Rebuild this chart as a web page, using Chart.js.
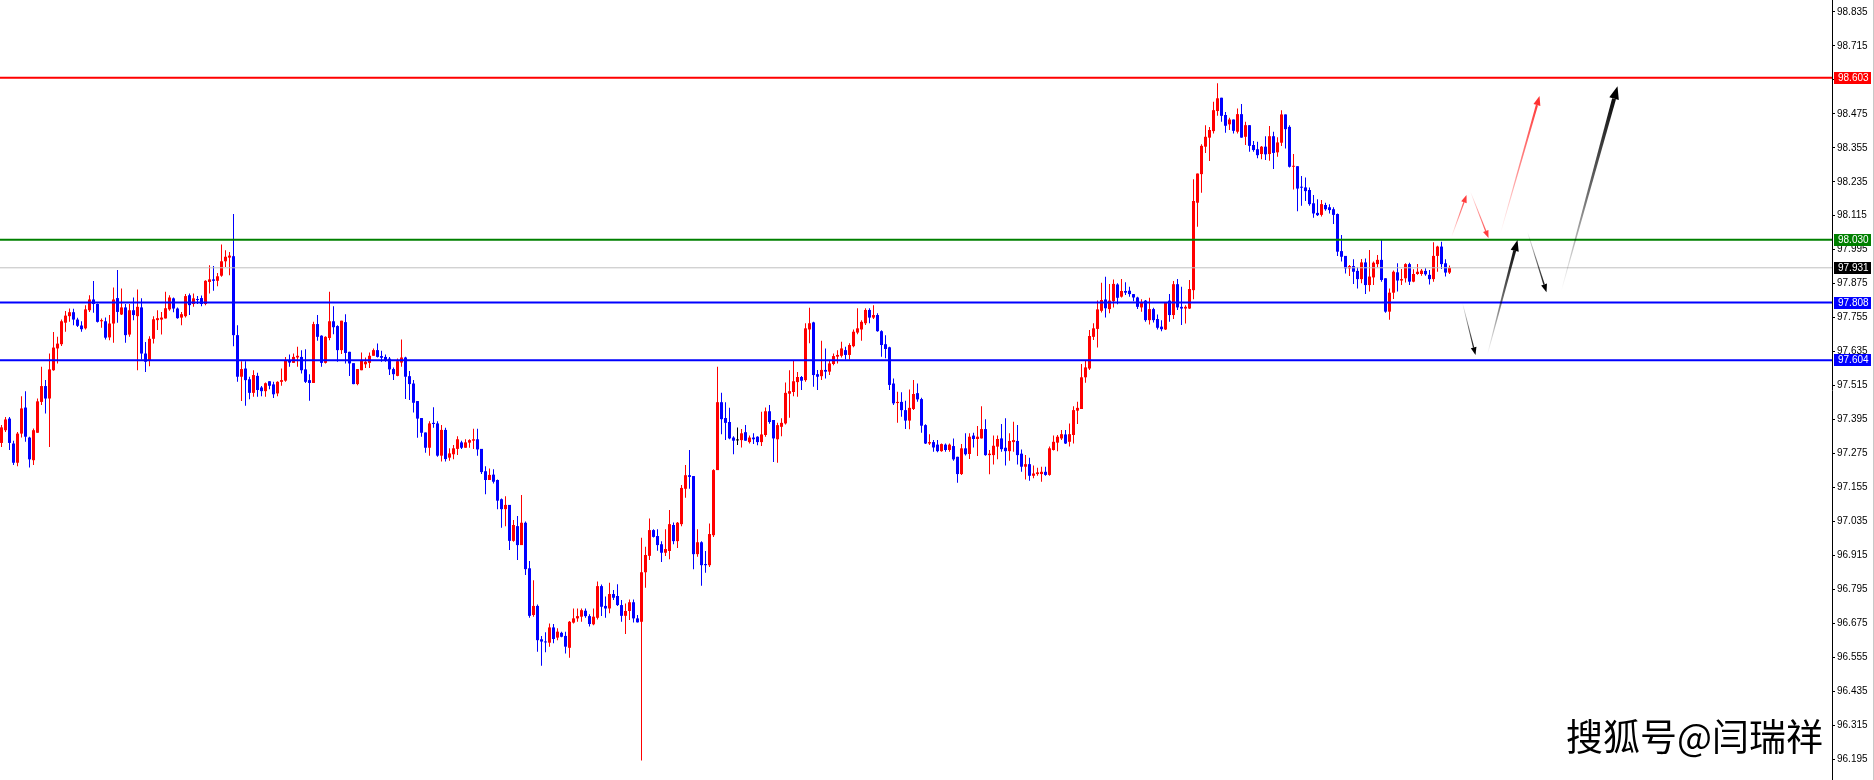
<!DOCTYPE html>
<html>
<head>
<meta charset="utf-8">
<title>Kurs</title>
<script src="https://cdn.jsdelivr.net/npm/chart.js@4.4.0/dist/chart.umd.min.js"></script>
<style>
  html, body { margin: 0; padding: 0; background: #fff; }
  #wrap { position: relative; width: 1874px; height: 780px; }
  #mark {
    position: absolute; left: 1566px; top: 717px;
    font-family: "Noto Sans CJK SC"; font-size: 37px; line-height: 1;
    color: #000; white-space: nowrap;
  }
</style>
</head>
<body>
<div id="wrap">
  <canvas id="chartKurs"></canvas>
  <div id="mark">搜狐号@闫瑞祥</div>
</div>
<script>
// candle values, one per bar
const opens = [
  97.312, 97.357, 97.398, 97.310, 97.242, 97.345, 97.437, 97.331, 97.251, 97.348,
  97.457, 97.513, 97.469, 97.569, 97.646, 97.661, 97.737, 97.760, 97.774, 97.748,
  97.727, 97.717, 97.781, 97.819, 97.803, 97.742, 97.742, 97.685, 97.734, 97.824,
  97.766, 97.791, 97.695, 97.781, 97.760, 97.791, 97.628, 97.605, 97.680, 97.746,
  97.748, 97.752, 97.784, 97.823, 97.787, 97.755, 97.760, 97.834, 97.803, 97.820,
  97.824, 97.803, 97.881, 97.890, 97.885, 97.903, 97.954, 97.967, 97.972, 97.693,
  97.546, 97.575, 97.537, 97.489, 97.549, 97.508, 97.495, 97.530, 97.519, 97.487,
  97.528, 97.532, 97.605, 97.595, 97.614, 97.616, 97.572, 97.534, 97.524, 97.732,
  97.691, 97.595, 97.683, 97.742, 97.725, 97.640, 97.739, 97.634, 97.594, 97.520,
  97.569, 97.590, 97.595, 97.620, 97.640, 97.619, 97.616, 97.610, 97.573, 97.549,
  97.596, 97.614, 97.548, 97.522, 97.460, 97.400, 97.349, 97.295, 97.383, 97.381,
  97.267, 97.358, 97.260, 97.272, 97.291, 97.314, 97.295, 97.313, 97.320, 97.325,
  97.291, 97.212, 97.181, 97.200, 97.181, 97.113, 97.078, 97.093, 96.966, 97.018,
  96.951, 97.030, 96.869, 96.704, 96.736, 96.618, 96.610, 96.606, 96.660, 96.624,
  96.641, 96.630, 96.588, 96.677, 96.692, 96.698, 96.719, 96.700, 96.671, 96.694,
  96.806, 96.736, 96.727, 96.778, 96.771, 96.739, 96.701, 96.718, 96.749, 96.692,
  96.680, 96.855, 96.913, 97.004, 96.983, 96.954, 96.924, 96.930, 97.022, 96.965,
  97.025, 97.150, 97.198, 97.195, 96.919, 96.961, 96.884, 96.880, 96.986, 97.216,
  97.456, 97.400, 97.386, 97.331, 97.321, 97.322, 97.350, 97.315, 97.331, 97.334,
  97.315, 97.340, 97.424, 97.393, 97.325, 97.369, 97.381, 97.486, 97.492, 97.527,
  97.545, 97.534, 97.713, 97.738, 97.555, 97.548, 97.570, 97.564, 97.591, 97.617,
  97.620, 97.640, 97.623, 97.654, 97.702, 97.713, 97.735, 97.782, 97.755, 97.764,
  97.707, 97.661, 97.650, 97.522, 97.453, 97.457, 97.428, 97.391, 97.432, 97.488,
  97.467, 97.375, 97.310, 97.315, 97.306, 97.283, 97.306, 97.287, 97.301, 97.263,
  97.202, 97.293, 97.273, 97.338, 97.326, 97.328, 97.361, 97.269, 97.269, 97.299,
  97.328, 97.295, 97.283, 97.315, 97.319, 97.274, 97.228, 97.237, 97.196, 97.202,
  97.202, 97.210, 97.199, 97.287, 97.313, 97.328, 97.342, 97.316, 97.340, 97.426,
  97.432, 97.544, 97.575, 97.687, 97.715, 97.779, 97.819, 97.785, 97.813, 97.872,
  97.829, 97.849, 97.850, 97.838, 97.826, 97.791, 97.815, 97.746, 97.785, 97.750,
  97.723, 97.713, 97.815, 97.764, 97.873, 97.793, 97.787, 97.787, 97.852, 98.161,
  98.262, 98.359, 98.391, 98.414, 98.485, 98.532, 98.471, 98.438, 98.455, 98.412,
  98.474, 98.394, 98.435, 98.365, 98.350, 98.333, 98.359, 98.333, 98.396, 98.339,
  98.373, 98.473, 98.429, 98.288, 98.290, 98.215, 98.215, 98.206, 98.159, 98.125,
  98.118, 98.153, 98.145, 98.138, 98.121, 97.990, 97.973, 97.929, 97.937, 97.920,
  97.891, 97.950, 97.870, 97.897, 97.944, 97.959, 97.894, 97.776, 97.843, 97.915,
  97.886, 97.894, 97.944, 97.882, 97.909, 97.909, 97.920, 97.906, 97.891, 97.973,
  98.006, 97.947, 97.914
];
const highs = [
  97.375, 97.404, 97.404, 97.320, 97.351, 97.477, 97.495, 97.334, 97.363, 97.469,
  97.581, 97.534, 97.628, 97.704, 97.687, 97.748, 97.778, 97.787, 97.786, 97.754,
  97.742, 97.799, 97.834, 97.884, 97.805, 97.752, 97.755, 97.764, 97.861, 97.923,
  97.858, 97.803, 97.803, 97.826, 97.854, 97.823, 97.669, 97.689, 97.760, 97.781,
  97.775, 97.846, 97.834, 97.826, 97.791, 97.775, 97.838, 97.840, 97.840, 97.831,
  97.833, 97.887, 97.940, 97.937, 97.913, 98.013, 97.993, 97.987, 98.121, 97.728,
  97.601, 97.601, 97.546, 97.569, 97.560, 97.513, 97.526, 97.530, 97.528, 97.530,
  97.575, 97.616, 97.625, 97.628, 97.652, 97.640, 97.643, 97.555, 97.740, 97.764,
  97.693, 97.689, 97.846, 97.795, 97.728, 97.744, 97.767, 97.634, 97.594, 97.573,
  97.632, 97.614, 97.632, 97.646, 97.663, 97.638, 97.625, 97.616, 97.579, 97.610,
  97.678, 97.617, 97.566, 97.534, 97.460, 97.400, 97.349, 97.389, 97.438, 97.389,
  97.375, 97.366, 97.293, 97.305, 97.336, 97.320, 97.325, 97.325, 97.362, 97.362,
  97.291, 97.230, 97.222, 97.219, 97.183, 97.116, 97.124, 97.093, 97.040, 97.054,
  97.128, 97.034, 96.895, 96.827, 96.741, 96.630, 96.643, 96.674, 96.672, 96.657,
  96.645, 96.645, 96.683, 96.727, 96.727, 96.727, 96.727, 96.707, 96.727, 96.822,
  96.812, 96.769, 96.818, 96.792, 96.813, 96.757, 96.745, 96.759, 96.759, 96.704,
  96.977, 96.945, 97.045, 97.007, 97.007, 96.965, 97.007, 97.075, 97.031, 97.033,
  97.163, 97.234, 97.287, 97.195, 97.007, 96.965, 96.930, 97.027, 97.219, 97.581,
  97.489, 97.456, 97.436, 97.336, 97.367, 97.361, 97.375, 97.338, 97.346, 97.336,
  97.422, 97.437, 97.446, 97.393, 97.383, 97.399, 97.526, 97.569, 97.602, 97.563,
  97.549, 97.735, 97.790, 97.740, 97.570, 97.673, 97.646, 97.605, 97.628, 97.640,
  97.670, 97.652, 97.664, 97.713, 97.788, 97.746, 97.788, 97.788, 97.799, 97.770,
  97.710, 97.693, 97.652, 97.540, 97.493, 97.491, 97.461, 97.501, 97.534, 97.522,
  97.472, 97.378, 97.343, 97.322, 97.322, 97.310, 97.310, 97.310, 97.328, 97.263,
  97.308, 97.346, 97.346, 97.348, 97.372, 97.442, 97.396, 97.287, 97.338, 97.338,
  97.379, 97.399, 97.346, 97.387, 97.375, 97.289, 97.269, 97.260, 97.232, 97.224,
  97.228, 97.228, 97.299, 97.338, 97.340, 97.358, 97.358, 97.381, 97.442, 97.458,
  97.591, 97.605, 97.711, 97.735, 97.815, 97.878, 97.899, 97.874, 97.890, 97.876,
  97.891, 97.880, 97.864, 97.838, 97.829, 97.820, 97.817, 97.825, 97.790, 97.766,
  97.746, 97.807, 97.838, 97.884, 97.891, 97.864, 97.799, 97.888, 98.244, 98.264,
  98.368, 98.435, 98.429, 98.518, 98.583, 98.532, 98.482, 98.461, 98.455, 98.494,
  98.510, 98.447, 98.435, 98.379, 98.376, 98.361, 98.396, 98.432, 98.412, 98.392,
  98.488, 98.473, 98.435, 98.333, 98.290, 98.255, 98.250, 98.215, 98.188, 98.173,
  98.171, 98.161, 98.156, 98.145, 98.123, 98.047, 97.973, 97.941, 97.961, 97.933,
  97.962, 97.964, 97.994, 97.953, 97.976, 98.029, 97.894, 97.858, 97.921, 97.947,
  97.927, 97.947, 97.949, 97.926, 97.944, 97.927, 97.929, 97.923, 98.021, 98.009,
  98.023, 97.961, 97.939
];
const lows = [
  97.298, 97.351, 97.287, 97.234, 97.230, 97.331, 97.316, 97.225, 97.234, 97.348,
  97.446, 97.416, 97.298, 97.567, 97.593, 97.655, 97.705, 97.740, 97.728, 97.722,
  97.705, 97.713, 97.775, 97.772, 97.738, 97.719, 97.678, 97.675, 97.666, 97.737,
  97.764, 97.666, 97.687, 97.746, 97.569, 97.607, 97.563, 97.583, 97.663, 97.711,
  97.695, 97.752, 97.779, 97.774, 97.751, 97.728, 97.755, 97.764, 97.793, 97.803,
  97.795, 97.799, 97.840, 97.850, 97.866, 97.899, 97.934, 97.905, 97.654, 97.528,
  97.460, 97.443, 97.466, 97.475, 97.475, 97.477, 97.475, 97.502, 97.471, 97.477,
  97.514, 97.528, 97.581, 97.595, 97.581, 97.557, 97.524, 97.461, 97.524, 97.673,
  97.581, 97.593, 97.675, 97.696, 97.599, 97.626, 97.593, 97.549, 97.519, 97.516,
  97.569, 97.577, 97.577, 97.620, 97.614, 97.599, 97.599, 97.552, 97.534, 97.548,
  97.581, 97.467, 97.464, 97.420, 97.330, 97.334, 97.277, 97.267, 97.366, 97.263,
  97.246, 97.246, 97.249, 97.254, 97.269, 97.291, 97.295, 97.295, 97.291, 97.267,
  97.202, 97.131, 97.181, 97.169, 97.078, 97.012, 97.018, 96.934, 96.963, 96.898,
  96.951, 96.845, 96.694, 96.698, 96.574, 96.525, 96.572, 96.592, 96.604, 96.615,
  96.625, 96.568, 96.553, 96.674, 96.680, 96.680, 96.694, 96.663, 96.668, 96.688,
  96.700, 96.694, 96.710, 96.757, 96.736, 96.680, 96.637, 96.686, 96.677, 96.677,
  96.190, 96.800, 96.898, 96.978, 96.931, 96.891, 96.912, 96.901, 96.954, 96.941,
  97.018, 97.118, 97.150, 96.866, 96.910, 96.807, 96.853, 96.874, 96.980, 97.216,
  97.343, 97.322, 97.325, 97.272, 97.305, 97.296, 97.320, 97.310, 97.308, 97.304,
  97.301, 97.334, 97.380, 97.245, 97.242, 97.336, 97.377, 97.401, 97.477, 97.475,
  97.499, 97.528, 97.664, 97.511, 97.499, 97.534, 97.540, 97.552, 97.587, 97.593,
  97.614, 97.607, 97.607, 97.650, 97.696, 97.673, 97.729, 97.735, 97.750, 97.705,
  97.617, 97.611, 97.499, 97.446, 97.383, 97.405, 97.361, 97.360, 97.428, 97.458,
  97.348, 97.308, 97.305, 97.281, 97.279, 97.281, 97.281, 97.281, 97.249, 97.171,
  97.199, 97.268, 97.255, 97.296, 97.266, 97.328, 97.267, 97.201, 97.236, 97.254,
  97.281, 97.232, 97.249, 97.281, 97.236, 97.210, 97.183, 97.178, 97.187, 97.196,
  97.175, 97.196, 97.196, 97.285, 97.283, 97.322, 97.308, 97.299, 97.310, 97.379,
  97.432, 97.525, 97.570, 97.676, 97.649, 97.773, 97.755, 97.770, 97.791, 97.802,
  97.826, 97.835, 97.829, 97.813, 97.785, 97.776, 97.740, 97.731, 97.738, 97.713,
  97.707, 97.711, 97.740, 97.750, 97.782, 97.729, 97.734, 97.785, 97.820, 98.076,
  98.196, 98.337, 98.308, 98.406, 98.468, 98.447, 98.408, 98.418, 98.406, 98.406,
  98.391, 98.365, 98.341, 98.341, 98.318, 98.315, 98.312, 98.309, 98.280, 98.323,
  98.361, 98.353, 98.285, 98.208, 98.131, 98.150, 98.167, 98.150, 98.108, 98.114,
  98.112, 98.133, 98.123, 98.086, 97.973, 97.953, 97.911, 97.902, 97.874, 97.858,
  97.876, 97.838, 97.847, 97.870, 97.933, 97.882, 97.772, 97.747, 97.821, 97.847,
  97.870, 97.879, 97.870, 97.880, 97.906, 97.903, 97.903, 97.872, 97.882, 97.917,
  97.927, 97.900, 97.909
];
const closes = [
  97.367, 97.395, 97.312, 97.242, 97.345, 97.434, 97.334, 97.254, 97.357, 97.459,
  97.513, 97.469, 97.572, 97.649, 97.663, 97.742, 97.762, 97.774, 97.748, 97.726,
  97.714, 97.784, 97.819, 97.803, 97.740, 97.746, 97.684, 97.734, 97.819, 97.775,
  97.791, 97.693, 97.781, 97.764, 97.793, 97.628, 97.599, 97.680, 97.749, 97.753,
  97.755, 97.788, 97.826, 97.787, 97.753, 97.767, 97.831, 97.799, 97.823, 97.817,
  97.803, 97.885, 97.890, 97.885, 97.901, 97.954, 97.970, 97.974, 97.693, 97.546,
  97.573, 97.534, 97.489, 97.552, 97.499, 97.495, 97.523, 97.514, 97.484, 97.528,
  97.534, 97.602, 97.596, 97.616, 97.620, 97.569, 97.528, 97.524, 97.732, 97.687,
  97.595, 97.687, 97.742, 97.721, 97.640, 97.744, 97.630, 97.593, 97.520, 97.573,
  97.602, 97.599, 97.620, 97.640, 97.616, 97.613, 97.602, 97.572, 97.555, 97.601,
  97.614, 97.546, 97.520, 97.454, 97.398, 97.348, 97.295, 97.381, 97.379, 97.267,
  97.358, 97.255, 97.275, 97.293, 97.325, 97.295, 97.314, 97.322, 97.325, 97.289,
  97.209, 97.181, 97.199, 97.175, 97.108, 97.078, 97.093, 96.966, 97.022, 96.951,
  97.030, 96.866, 96.701, 96.736, 96.615, 96.610, 96.607, 96.660, 96.619, 96.645,
  96.627, 96.592, 96.680, 96.692, 96.700, 96.721, 96.700, 96.672, 96.698, 96.806,
  96.733, 96.727, 96.778, 96.765, 96.739, 96.701, 96.718, 96.749, 96.692, 96.678,
  96.855, 96.916, 97.004, 96.980, 96.951, 96.924, 96.937, 97.025, 96.965, 97.030,
  97.153, 97.198, 97.192, 96.919, 96.961, 96.880, 96.880, 96.990, 97.216, 97.456,
  97.396, 97.383, 97.328, 97.320, 97.321, 97.346, 97.320, 97.331, 97.325, 97.315,
  97.342, 97.424, 97.386, 97.328, 97.375, 97.383, 97.489, 97.495, 97.530, 97.545,
  97.532, 97.717, 97.735, 97.552, 97.546, 97.570, 97.564, 97.593, 97.619, 97.623,
  97.646, 97.623, 97.658, 97.705, 97.717, 97.740, 97.782, 97.755, 97.764, 97.707,
  97.658, 97.644, 97.517, 97.452, 97.457, 97.428, 97.391, 97.436, 97.485, 97.466,
  97.373, 97.310, 97.315, 97.296, 97.283, 97.308, 97.287, 97.306, 97.254, 97.202,
  97.293, 97.272, 97.334, 97.326, 97.334, 97.361, 97.269, 97.274, 97.302, 97.326,
  97.290, 97.283, 97.319, 97.322, 97.269, 97.228, 97.237, 97.196, 97.204, 97.208,
  97.210, 97.199, 97.293, 97.316, 97.334, 97.343, 97.310, 97.343, 97.428, 97.436,
  97.544, 97.579, 97.690, 97.717, 97.784, 97.817, 97.788, 97.815, 97.874, 97.825,
  97.849, 97.843, 97.838, 97.826, 97.793, 97.807, 97.746, 97.785, 97.746, 97.719,
  97.714, 97.807, 97.764, 97.873, 97.791, 97.787, 97.793, 97.856, 98.167, 98.264,
  98.362, 98.394, 98.418, 98.488, 98.530, 98.468, 98.433, 98.455, 98.415, 98.474,
  98.391, 98.435, 98.362, 98.347, 98.329, 98.359, 98.332, 98.396, 98.337, 98.374,
  98.473, 98.421, 98.288, 98.290, 98.211, 98.214, 98.202, 98.156, 98.123, 98.117,
  98.156, 98.138, 98.135, 98.118, 97.988, 97.970, 97.929, 97.937, 97.917, 97.891,
  97.950, 97.870, 97.900, 97.949, 97.959, 97.888, 97.776, 97.843, 97.917, 97.886,
  97.891, 97.944, 97.882, 97.909, 97.917, 97.921, 97.908, 97.891, 97.973, 98.006,
  97.944, 97.914, 97.931
];

// price axis labels
const yTicks = [
  96.195, 96.315, 96.435, 96.555, 96.675, 96.795, 96.915, 97.035, 97.155, 97.275,
  97.395, 97.515, 97.635, 97.755, 97.875, 97.995, 98.115, 98.235, 98.355, 98.475,
  98.595, 98.715, 98.835
];

// horizontal levels (resistance / support / current price)
const levelValues = [98.603, 98.030, 97.931, 97.808, 97.604];
const levelColors = ['#ff0000', '#008000', '#c0c0c0', '#0000ff', '#0000ff'];
const levelLabelBg = ['#ff0000', '#008000', '#000000', '#0000ff', '#0000ff'];
const levelWidths = [2, 2, 1, 2, 2];

// forecast arrows: [bar index, price]
const arrowFrom = [[362.5, 98.040], [367.25, 98.199], [374.75, 98.054], [365.25, 97.806], [371.5, 97.626], [381.5, 98.057], [390, 97.852]];
const arrowTo   = [[366.25, 98.188], [371.75, 98.036], [384.5, 98.538], [368.5, 97.623], [379, 98.029], [386.25, 97.845], [404, 98.573]];
const arrowRgb  = [[255, 60, 60], [255, 60, 60], [255, 50, 50], [0, 0, 0], [0, 0, 0], [0, 0, 0], [0, 0, 0]];
const arrowW    = [1.3, 1.3, 2.2, 1.3, 3, 1.5, 4];

const xMin = -0.375, xMax = 457.625;

const candleColors = closes.map((c, i) => c > opens[i] ? '#ff0000' : (c < opens[i] ? '#0000ff' : '#000000'));

function drawArrow(ctx, x0, y0, x1, y1, rgb, w) {
    const dx = x1 - x0, dy = y1 - y0;
    const len = Math.hypot(dx, dy);
    const ux = dx / len, uy = dy / len, nx = -uy, ny = ux;
    const head = 5 + w * 2;
    const bx = x1 - ux * head, by = y1 - uy * head;
    const c = rgb.join(',');
    const grad = ctx.createLinearGradient(x0, y0, x1, y1);
    grad.addColorStop(0, 'rgba(' + c + ',0)');
    grad.addColorStop(0.45, 'rgba(' + c + ',0.55)');
    grad.addColorStop(1, 'rgba(' + c + ',1)');
    ctx.fillStyle = grad;
    ctx.beginPath();
    ctx.moveTo(x0 + nx * 0.3, y0 + ny * 0.3);
    ctx.lineTo(bx + nx * w / 2, by + ny * w / 2);
    ctx.lineTo(bx - nx * w / 2, by - ny * w / 2);
    ctx.lineTo(x0 - nx * 0.3, y0 - ny * 0.3);
    ctx.closePath();
    ctx.fill();
    const hw = head * 0.38;
    ctx.fillStyle = 'rgb(' + c + ')';
    ctx.beginPath();
    ctx.moveTo(x1, y1);
    ctx.lineTo(bx + nx * hw, by + ny * hw);
    ctx.lineTo(bx - nx * hw, by - ny * hw);
    ctx.closePath();
    ctx.fill();
}

const overlayPlugin = {
    id: 'overlay',
    afterDatasetsDraw(chart) {
        const ctx = chart.ctx, xs = chart.scales.x, ys = chart.scales.y;
        ctx.save();
        for (let i = 0; i < arrowFrom.length; i++) {
            drawArrow(ctx,
                xs.getPixelForValue(arrowFrom[i][0]), ys.getPixelForValue(arrowFrom[i][1]),
                xs.getPixelForValue(arrowTo[i][0]), ys.getPixelForValue(arrowTo[i][1]),
                arrowRgb[i], arrowW[i]);
        }
        ctx.restore();
    },
    afterDraw(chart) {
        const ctx = chart.ctx, ys = chart.scales.y;
        const left = chart.chartArea.right + 2;
        ctx.save();
        ctx.font = '10px "Liberation Sans"';
        ctx.textBaseline = 'middle';
        ctx.textAlign = 'left';
        levelValues.forEach((v, i) => {
            const y = Math.round(ys.getPixelForValue(v));
            ctx.fillStyle = levelLabelBg[i];
            ctx.fillRect(left, y - 6, 37, 12);
            ctx.fillStyle = '#ffffff';
            ctx.fillText(v.toFixed(3), left + 4, y + 0.5);
        });
        ctx.fillStyle = '#c8c8c8';
        ctx.fillRect(chart.width - 1, 0, 1, chart.height);
        ctx.restore();
    }
};

document.addEventListener("DOMContentLoaded", function () {
    const el = document.getElementById('chartKurs');
    document.getElementById('wrap').style.height = '780px';

    const levelSets = levelValues.map((v, i) => ({
        type: 'line',
        data: [{ x: xMin, y: v }, { x: xMax, y: v }],
        borderColor: levelColors[i],
        borderWidth: levelWidths[i],
        pointRadius: 0,
        fill: false,
        order: 0
    }));

    new Chart(el.getContext('2d'), {
        type: 'bar',
        data: {
            datasets: [
                ...levelSets,
                {
                    label: 'wick',
                    data: lows.map((l, i) => ({ x: i, y: [l, highs[i]] })),
                    backgroundColor: candleColors,
                    barThickness: 1,
                    grouped: false,
                    inflateAmount: 0,
                    order: 2
                },
                {
                    label: 'body',
                    data: opens.map((o, i) => ({ x: i, y: [o, closes[i]] })),
                    backgroundColor: candleColors,
                    barThickness: 3,
                    minBarLength: 1,
                    grouped: false,
                    inflateAmount: 0,
                    order: 1
                }
            ]
        },
        options: {
            responsive: true,
            maintainAspectRatio: false,
            animation: false,
            layout: { padding: 0 },
            plugins: {
                legend: { display: false },
                tooltip: { enabled: false }
            },
            scales: {
                x: {
                    type: 'linear',
                    min: xMin,
                    max: xMax,
                    offset: false,
                    display: false
                },
                y: {
                    position: 'right',
                    min: 96.1208,
                    max: 98.8774,
                    afterBuildTicks: s => { s.ticks = yTicks.map(v => ({ value: v })); },
                    afterFit: s => { s.width = 42; s.paddingTop = 0; s.paddingBottom = 0; },
                    grid: { drawOnChartArea: false, tickLength: 3, tickColor: '#000' },
                    border: { color: '#000', width: 1 },
                    ticks: {
                        color: '#000',
                        padding: 2,
                        autoSkip: false,
                        font: { family: 'Liberation Sans', size: 10 },
                        callback: value => Number(value).toFixed(3)
                    }
                }
            }
        },
        plugins: [overlayPlugin]
    });
});
</script>
</body>
</html>
